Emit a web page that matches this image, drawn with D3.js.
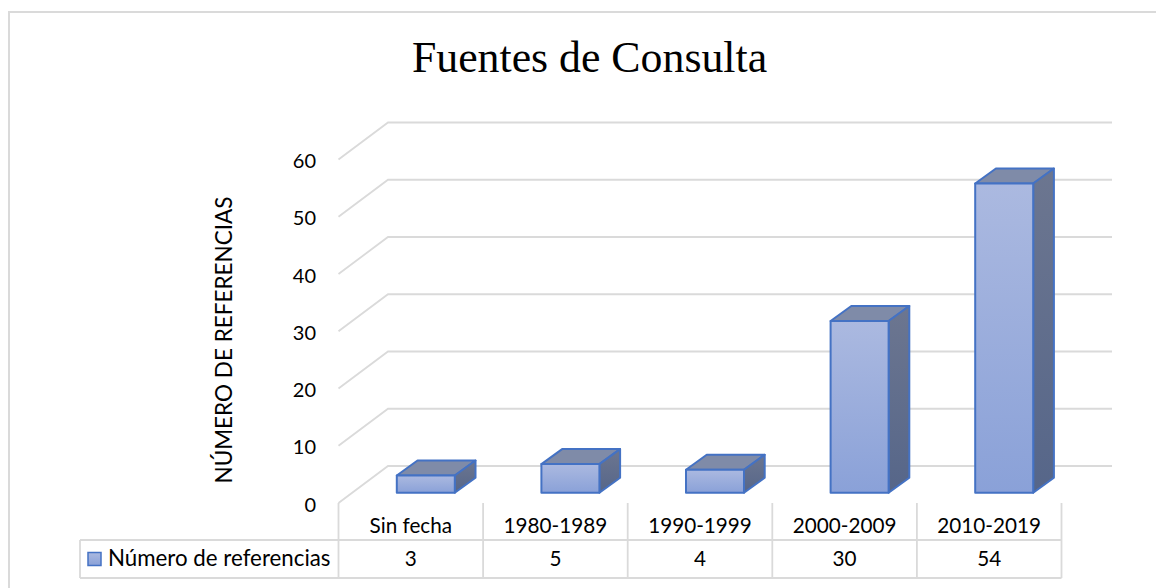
<!DOCTYPE html>
<html>
<head>
<meta charset="utf-8">
<script src="https://cdn.jsdelivr.net/npm/d3@7"></script>
<style>
html, body { margin: 0; padding: 0; background: #fff; }
svg { display: block; }
text { font-family: Lato, sans-serif; fill: #000; }
</style>
</head>
<body>
<script>
const categories = ["Sin fecha", "1980-1989", "1990-1999", "2000-2009", "2010-2019"];
const values = [3, 5, 4, 30, 54];
const yTicks = [0, 10, 20, 30, 40, 50, 60];
const seriesName = "Número de referencias";
const chartTitle = "Fuentes de Consulta";
const yTitle = "NÚMERO DE REFERENCIAS";

const width = 1156, height = 588;
const grey = "#dadada", edge = "#4472c4";

const svg = d3.select("body").append("svg")
    .attr("width", width)
    .attr("height", height);

// gradients for the three bar faces
const defs = svg.append("defs");
function addGradient(id, from, to) {
    const g = defs.append("linearGradient")
        .attr("id", id)
        .attr("x1", 0).attr("y1", 0).attr("x2", 0).attr("y2", 1);
    g.append("stop").attr("offset", "0%").attr("stop-color", from);
    g.append("stop").attr("offset", "100%").attr("stop-color", to);
}
addGradient("faceFront", "#abb9e0", "#8aa1d8");
addGradient("faceSide", "#6c7690", "#566689");

// frame: top and left edges
svg.append("path")
    .attr("d", d3.line()([[1156, 12], [9, 12], [9, 588]]))
    .attr("fill", "none")
    .attr("stroke", grey)
    .attr("stroke-width", 2);

svg.append("text")
    .attr("x", 589.5).attr("y", 72)
    .attr("text-anchor", "middle")
    .style("font-family", "'Liberation Serif', serif")
    .style("font-size", "43.8px")
    .text(chartTitle);

// scales: x is the front edge of the floor, y the left front wall
const x = d3.scaleBand().domain(categories).range([338.5, 1061.5]);
const y = d3.scaleLinear().domain([0, 60]).range([503, 159.5]);

// walls: depth of the floor from the front edge to the back wall
const wall = { dx: 49.5, dy: -37, right: 1112 };

const grid = svg.append("g").attr("fill", "none").attr("stroke", grey).attr("stroke-width", 1.8);
yTicks.forEach(t => {
    grid.append("path")
        .attr("d", d3.line()([
            [x.range()[0], y(t)],
            [x.range()[0] + wall.dx, y(t) + wall.dy],
            [wall.right, y(t) + wall.dy]
        ]));
});

// y axis labels
const yAxis = svg.append("g")
    .attr("transform", `translate(316,8)`)
    .call(d3.axisLeft(y).tickValues(yTicks).tickSize(0).tickPadding(0));
yAxis.select(".domain").remove();
yAxis.selectAll("text")
    .style("font-size", "20px")
    .attr("dy", "0")
    .attr("text-anchor", "end");

svg.append("text")
    .attr("transform", "translate(232,340) rotate(-90)")
    .attr("text-anchor", "middle")
    .style("font-size", "22.5px")
    .text(yTitle);

// bars
const barW = 58;
const barShift = { x: 15, y: -10.3 };
const depth = { dx: 20.7, dy: -15 };

const bars = svg.append("g").selectAll("g").data(values).enter().append("g")
    .attr("stroke", edge)
    .attr("stroke-width", 2)
    .attr("stroke-linejoin", "round");

const barLeft = (d, i) => x(categories[i]) + x.bandwidth() / 2 - barW / 2 + barShift.x;
const barTop = d => y(d) + barShift.y;
const barBottom = y(0) + barShift.y;

// top face
bars.append("path")
    .attr("fill", "#7f8ba8")
    .attr("d", (d, i) => {
        const l = barLeft(d, i), t = barTop(d);
        return d3.line()([
            [l, t], [l + depth.dx, t + depth.dy],
            [l + barW + depth.dx, t + depth.dy], [l + barW, t]
        ]) + "Z";
    });

// side face
bars.append("path")
    .attr("fill", "url(#faceSide)")
    .attr("d", (d, i) => {
        const r = barLeft(d, i) + barW, t = barTop(d);
        return d3.line()([
            [r, t], [r + depth.dx, t + depth.dy],
            [r + depth.dx, barBottom + depth.dy], [r, barBottom]
        ]) + "Z";
    });

// front face
bars.append("rect")
    .attr("fill", "url(#faceFront)")
    .attr("x", barLeft)
    .attr("y", barTop)
    .attr("width", barW)
    .attr("height", d => barBottom - barTop(d));

// data table
const tableTop = 540, tableBottom = 578, tableLeft = 80;
const table = svg.append("g").attr("fill", "none").attr("stroke", grey).attr("stroke-width", 1.8);
table.append("path").attr("d", d3.line()([
    [tableLeft, tableTop], [x.range()[1], tableTop]
]));
table.append("path").attr("d", d3.line()([
    [tableLeft, tableBottom], [x.range()[1], tableBottom]
]));
table.append("path").attr("d", d3.line()([
    [tableLeft, tableTop], [tableLeft, tableBottom]
]));
categories.concat([null]).forEach((c, i) => {
    const px = c === null ? x.range()[1] : x(c);
    table.append("path").attr("d", d3.line()([[px, y(0)], [px, tableBottom]]));
});

svg.append("g").selectAll("text").data(categories).enter().append("text")
    .attr("x", d => x(d) + x.bandwidth() / 2)
    .attr("y", 533)
    .attr("text-anchor", "middle")
    .style("font-size", "20.7px")
    .text(d => d);

svg.append("g").selectAll("text").data(values).enter().append("text")
    .attr("x", (d, i) => x(categories[i]) + x.bandwidth() / 2)
    .attr("y", 566)
    .attr("text-anchor", "middle")
    .style("font-size", "20.7px")
    .text(d => d);

// legend key
svg.append("rect")
    .attr("x", 88).attr("y", 552.5)
    .attr("width", 13).attr("height", 13)
    .attr("fill", "url(#faceFront)")
    .attr("stroke", edge)
    .attr("stroke-width", 1.5);

svg.append("text")
    .attr("x", 108).attr("y", 566)
    .style("font-size", "22.3px")
    .text(seriesName);
</script>
</body>
</html>
